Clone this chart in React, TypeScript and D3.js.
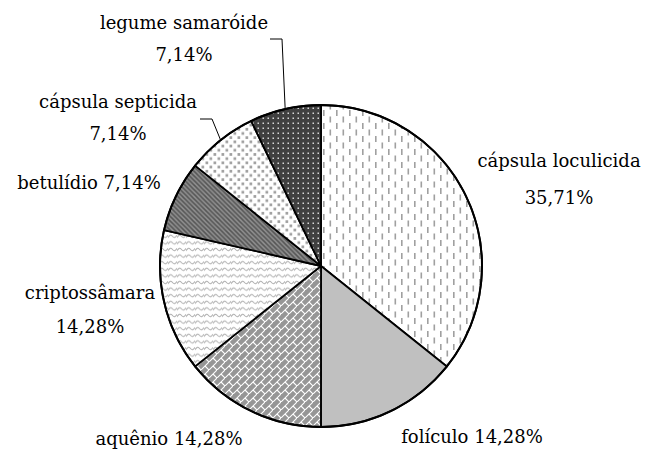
import React from 'react';
import * as d3 from 'd3';

// categorias e percentuais
const categories = [
  'cápsula loculicida',
  'folículo',
  'aquênio',
  'criptossâmara',
  'betulídio',
  'cápsula septicida',
  'legume samaróide',
];
const values = [35.71, 14.28, 14.28, 14.28, 7.14, 7.14, 7.14];
const valueLabels = ['35,71%', '14,28%', '14,28%', '14,28%', '7,14%', '7,14%', '7,14%'];

// texto de cada rótulo: true = nome e valor em duas linhas
const twoLines = [true, false, false, true, false, true, true];

const patternIds = ['pDash', 'pSolid', 'pBrick', 'pWave', 'pStripe', 'pDots', 'pDarkDots'];

// posição manual dos rótulos (centro x, linha de base 1, linha de base 2)
const labelLayout = [
  { x: 559, y1: 167, y2: 204 },
  { x: 472, y1: 443, y2: 0 },
  { x: 169, y1: 445, y2: 0 },
  { x: 90, y1: 299, y2: 333 },
  { x: 89, y1: 189, y2: 0 },
  { x: 118, y1: 108, y2: 140 },
  { x: 184, y1: 29, y2: 61 },
];

// linhas de chamada: índice da fatia e pontos de cotovelo
const leaders = [
  { i: 5, pts: [[200, 119], [212, 119]] },
  { i: 6, pts: [[270, 39], [282, 39]] },
];

const width = 646;
const height = 454;
const cx = 321;
const cy = 266;
const radius = 161;
const font = "'DejaVu Serif', serif";

const App = () => {
  const pie = d3.pie<number>().sort(null).value(d => d);
  const arcs = pie(values);
  const arc = d3.arc<d3.PieArcDatum<number>>().innerRadius(0).outerRadius(radius);

  const edge = (a: d3.PieArcDatum<number>) => {
    const m = (a.startAngle + a.endAngle) / 2;
    return [cx + Math.sin(m) * radius, cy - Math.cos(m) * radius];
  };

  return (
    <svg width={width} height={height} style={{ position: 'absolute', left: 0, top: 0, background: '#fff' }}>
      <defs>
        <pattern id="pDash" patternUnits="userSpaceOnUse" width={13} height={13}>
          <rect width={13} height={13} fill="#fff" />
          <rect x={2} y={0} width={1.6} height={6} fill="#a0a0a0" />
          <rect x={8.5} y={6.5} width={1.6} height={6} fill="#a0a0a0" />
        </pattern>
        <pattern id="pSolid" patternUnits="userSpaceOnUse" width={8} height={8}>
          <rect width={8} height={8} fill="#c0c0c0" />
        </pattern>
        <pattern id="pBrick" patternUnits="userSpaceOnUse" width={8} height={8}>
          <rect width={8} height={8} fill="#969696" />
          <path d="M-1,9 L9,-1 M4,4 L8,8" stroke="#fff" strokeWidth={1.1} />
        </pattern>
        <pattern id="pWave" patternUnits="userSpaceOnUse" width={9} height={6.6}>
          <rect width={9} height={6.6} fill="#fff" />
          <path d="M0,4.5 Q2.25,0.5 4.5,3.3 T9,2.1" fill="none" stroke="#b0b0b0" strokeWidth={1.1} />
          <path d="M-4.5,2.1 Q-2.25,6.1 0,4.5" fill="none" stroke="#b0b0b0" strokeWidth={1.1} />
        </pattern>
        <pattern id="pStripe" patternUnits="userSpaceOnUse" width={4.6} height={4.6}>
          <rect width={4.6} height={4.6} fill="#8f8f8f" />
          <path d="M-1,-1 L5.6,5.6 M-1,3.6 L1,5.6 M3.6,-1 L5.6,1" stroke="#555" strokeWidth={1.5} />
        </pattern>
        <pattern id="pDots" patternUnits="userSpaceOnUse" width={8} height={8.4}>
          <rect width={8} height={8.4} fill="#fff" />
          <rect x={0.5} y={0.5} width={2.7} height={2.7} fill="#a0a0a0" />
          <rect x={4.5} y={4.7} width={2.7} height={2.7} fill="#a0a0a0" />
        </pattern>
        <pattern id="pDarkDots" patternUnits="userSpaceOnUse" width={5} height={5}>
          <rect width={5} height={5} fill="#404040" />
          <rect x={1.5} y={1.5} width={1.5} height={1.5} fill="#d8d8d8" />
        </pattern>
      </defs>

      <g transform={`translate(${cx},${cy})`}>
        {arcs.map((a, i) => (
          <path key={categories[i]} d={arc(a) || ''} fill={`url(#${patternIds[i]})`} stroke="#000" strokeWidth={1.8} strokeLinejoin="round" />
        ))}
        <circle r={radius} fill="none" stroke="#000" strokeWidth={2} />
      </g>

      {leaders.map(l => {
        const end = edge(arcs[l.i]);
        const pts = [...l.pts, end].map(p => p.join(',')).join(' ');
        return <polyline key={l.i} points={pts} fill="none" stroke="#000" strokeWidth={1} />;
      })}

      <g style={{ fontFamily: font, fontSize: '18px' }} fill="#000" textAnchor="middle">
        {categories.map((c, i) => {
          const p = labelLayout[i];
          if (twoLines[i]) {
            return (
              <g key={c}>
                <text x={p.x} y={p.y1}>{c}</text>
                <text x={p.x} y={p.y2}>{valueLabels[i]}</text>
              </g>
            );
          }
          return <text key={c} x={p.x} y={p.y1}>{`${c} ${valueLabels[i]}`}</text>;
        })}
      </g>
    </svg>
  );
};

export default App;
